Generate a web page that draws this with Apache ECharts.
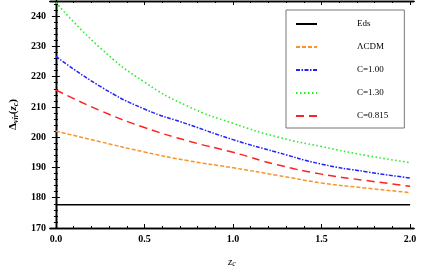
<!DOCTYPE html>
<html><head><meta charset="utf-8">
<script src="https://cdn.jsdelivr.net/npm/echarts@6/dist/echarts.min.js"></script>
<style>html,body{margin:0;padding:0;background:#fff}#c{width:436px;height:273px}</style>
</head><body><div id="c"></div>
<script>
const zValues = [0, 0.25, 0.5, 0.75, 1.0, 1.25, 1.5, 1.75, 2.0];
const edsValues = [177.65, 177.65, 177.65, 177.65, 177.65, 177.65, 177.65, 177.65, 177.65];
const lcdmValues = [202.0, 198.5, 195.1, 192.2, 189.9, 187.4, 184.9, 183.2, 181.7];
const c100Values = [226.7, 216.8, 209.3, 204.2, 199.2, 195.0, 191.1, 188.6, 186.5];
const c130Values = [244.5, 229.5, 218.2, 210.1, 204.6, 200.1, 196.9, 194.0, 191.6];
const c0815Values = [215.6, 208.8, 203.2, 198.7, 195.0, 190.9, 187.8, 185.7, 183.8];
const seriesNames = ['Eds', '\u039BCDM', 'C=1.00', 'C=1.30', 'C=0.815'];

const xMajorTicks = [0, 0.5, 1.0, 1.5, 2.0];
const xMinorTicks = [0.1, 0.2, 0.3, 0.4, 0.6, 0.7, 0.8, 0.9, 1.1, 1.2, 1.3, 1.4, 1.6, 1.7, 1.8, 1.9];
const yMajorTicks = [170, 180, 190, 200, 210, 220, 230, 240];
const yMinorTicks = [172, 174, 176, 178, 182, 184, 186, 188, 192, 194, 196, 198, 202, 204, 206, 208,
  212, 214, 216, 218, 222, 224, 226, 228, 232, 234, 236, 238, 242, 244];

const X_MIN = -0.034, X_MAX = 2.022, Y_MIN = 170, Y_MAX = 245;
const labelFont = { fontFamily: 'Liberation Serif', fontWeight: 'bold', fontSize: 10, color: '#000' };

function pairs(vals) { return zValues.map((z, i) => [z, vals[i]]); }

function axis(kind, pos, ticks, len, labels, extra) {
  const a = {
    type: 'value', position: pos,
    min: kind === 'x' ? X_MIN : Y_MIN, max: kind === 'x' ? X_MAX : Y_MAX,
    axisLine: { show: true, lineStyle: { color: '#000', width: 1.3 } },
    axisTick: { show: true, inside: true, length: len, customValues: ticks, lineStyle: { color: '#000', width: 1 } },
    axisLabel: labels ? Object.assign({ show: true, customValues: ticks, margin: kind === 'x' ? 6 : 4,
      formatter: v => kind === 'x' ? Number(v).toFixed(1) : String(v) }, labelFont) : { show: false },
    splitLine: { show: false }
  };
  return Object.assign(a, extra || {});
}

function lineSeries(name, vals, color, width, dash, smooth) {
  return { name: name, type: 'line', data: pairs(vals), symbol: 'none', smooth: smooth,
    lineStyle: { color: color, width: width, type: dash }, itemStyle: { color: color, opacity: 0 } };
}

const chart = echarts.init(document.getElementById('c'), null, { renderer: 'canvas' });
chart.setOption({
  animation: false,
  backgroundColor: '#fff',
  grid: { left: 47, right: 22, top: 1, bottom: 45, containLabel: false },
  xAxis: [
    axis('x', 'bottom', xMajorTicks, 4, true, {
      name: '{i|z}{s|c}', nameLocation: 'middle', nameGap: 28,
      nameTextStyle: { rich: {
        i: { fontFamily: 'Liberation Serif', fontStyle: 'italic', fontSize: 11, color: '#000' },
        s: { fontFamily: 'Liberation Serif', fontStyle: 'italic', fontSize: 8, color: '#000', padding: [4, 0, 0, 0] }
      } }
    }),
    axis('x', 'bottom', xMinorTicks, 2, false),
    axis('x', 'top', xMajorTicks, 4, false),
    axis('x', 'top', xMinorTicks, 2, false)
  ],
  yAxis: [
    axis('y', 'left', yMajorTicks, 4, true, {
      name: '{b|\u0394}{s|vir}{b|(}{i|z}{s|c}{b|)}', nameLocation: 'middle', nameGap: 25, nameRotate: 90,
      nameTextStyle: { rich: {
        b: { fontFamily: 'Liberation Serif', fontWeight: 'bold', fontSize: 11, color: '#000' },
        i: { fontFamily: 'Liberation Serif', fontWeight: 'bold', fontStyle: 'italic', fontSize: 11, color: '#000' },
        s: { fontFamily: 'Liberation Serif', fontWeight: 'bold', fontStyle: 'italic', fontSize: 8, color: '#000', padding: [5, 0, 0, 0] }
      } }
    }),
    axis('y', 'left', yMinorTicks, 2, false),
    axis('y', 'right', yMajorTicks, 4, false),
    axis('y', 'right', yMinorTicks, 2, false)
  ],
  legend: {
    orient: 'vertical', left: 286, top: 10,
    data: seriesNames,
    itemWidth: 21, itemHeight: 12, itemGap: 11,
    padding: [8, 16, 6, 9],
    borderColor: '#777', borderWidth: 1, backgroundColor: '#fff',
    itemStyle: { opacity: 0 },
    lineStyle: { width: 2 },
    textStyle: { fontFamily: 'Liberation Serif', fontSize: 9, color: '#000', padding: [0, 0, 0, 35], lineHeight: 12 }
  },
  series: [
    lineSeries(seriesNames[0], edsValues, '#000', 1.5, 'solid', false),
    lineSeries(seriesNames[1], lcdmValues, '#fa9428', 1.5, [4, 2], true),
    lineSeries(seriesNames[2], c100Values, '#2222ff', 1.5, [4, 1.5, 1.5, 1.5], true),
    lineSeries(seriesNames[3], c130Values, '#22ee22', 1.6, [1.5, 2.5], true),
    lineSeries(seriesNames[4], c0815Values, '#ff2222', 1.5, [8, 5], true)
  ]
});
</script>
</body></html>
